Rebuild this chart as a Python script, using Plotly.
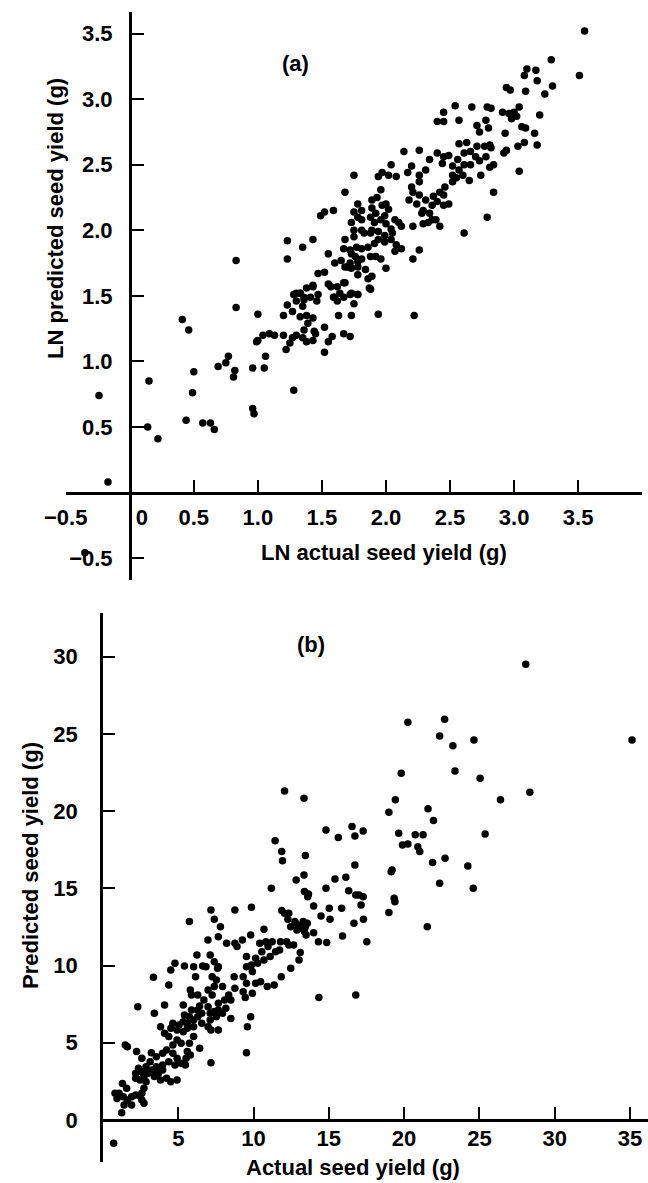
import plotly.graph_objects as go

# ---------------- Panel (a): LN values ----------------
a_actual = [3.55,3.29,3.10,3.17,3.08,3.18,3.30,3.51,2.94,2.97,3.09,3.24,2.79,2.82,3.04,2.91,2.96,3.00,3.02,2.98,
            3.20,2.45,2.54,2.67,2.40,2.45,2.57,2.71,2.78,2.73,2.80,2.93,3.06,3.09,3.16,2.57,2.63,2.71,2.77,2.81,
            2.82,2.92,2.94,3.03,3.08,3.18,2.66,2.61,2.78,2.70,2.26,2.14,2.40,2.45,2.49,2.44,2.56,2.52,2.57,2.61,
            2.66,2.73,2.81,2.84,2.65,2.60,2.55,2.52,2.74,3.04,2.34,2.31,2.26,2.20,2.17,2.04,2.02,1.97,1.94,2.08,
            1.75,2.52,2.46,2.42,2.37,2.45,2.36,2.31,2.26,2.21,2.18,2.24,2.29,2.34,2.39,2.42,2.33,2.28,2.84,2.49,
            2.45,2.40,2.26,2.20,1.96,1.93,1.89,1.68,1.78,1.81,1.89,1.92,1.97,2.00,2.02,1.75,1.78,1.81,1.88,1.91,
            1.96,1.99,2.07,2.10,2.00,2.04,2.05,2.12,2.21,2.29,2.36,2.79,2.61,1.49,1.52,1.59,1.73,1.75,1.81,1.88,
            1.94,1.99,2.04,2.08,2.12,2.07,1.99,1.94,1.89,1.83,1.75,1.68,1.67,1.72,1.77,1.81,1.86,1.91,1.96,2.21,
            2.26,1.23,1.35,1.43,1.73,1.76,1.81,1.88,1.92,1.78,1.72,1.68,1.65,1.73,1.78,1.84,2.00,1.55,1.60,1.23,
            0.83,1.89,1.86,1.78,1.70,1.52,1.47,1.55,1.62,1.67,1.73,1.78,1.88,1.43,1.38,1.33,1.30,1.36,1.60,1.67,
            0.83,0.41,0.46,1.00,1.23,1.28,1.30,1.33,1.35,1.36,1.41,1.43,1.47,1.46,1.57,1.59,1.62,1.64,1.68,1.72,
            1.78,1.75,1.87,1.63,1.73,1.94,2.22,1.52,1.43,1.39,1.44,1.36,1.30,1.25,1.22,1.27,1.35,1.38,1.43,1.45,
            1.20,1.13,1.09,1.04,1.00,0.99,1.20,1.27,1.33,1.38,1.58,1.67,1.72,1.55,1.52,1.06,0.77,0.75,0.69,0.82,
            0.81,0.96,1.05,0.50,0.49,0.15,-0.24,1.28,0.96,0.97,0.44,0.57,0.63,0.66,0.14,0.22,-0.17,-0.35]
a_pred = [3.52,3.30,3.23,3.22,3.18,3.14,3.10,3.18,3.09,3.07,3.06,3.04,2.94,2.93,2.94,2.90,2.89,2.90,2.87,2.85,
          2.88,2.90,2.95,2.94,2.83,2.83,2.84,2.80,2.84,2.75,2.78,2.74,2.79,2.78,2.74,2.66,2.67,2.64,2.64,2.65,
          2.63,2.59,2.61,2.64,2.67,2.65,2.60,2.59,2.56,2.56,2.61,2.60,2.59,2.56,2.57,2.51,2.54,2.49,2.46,2.50,
          2.50,2.53,2.48,2.50,2.38,2.42,2.40,2.42,2.42,2.45,2.54,2.46,2.42,2.49,2.44,2.50,2.42,2.44,2.41,2.41,
          2.42,2.37,2.33,2.29,2.26,2.27,2.19,2.23,2.27,2.29,2.23,2.20,2.15,2.13,2.08,2.03,2.06,2.13,2.29,2.20,
          2.19,2.22,2.37,2.33,2.31,2.25,2.23,2.29,2.20,2.15,2.17,2.13,2.19,2.20,2.16,2.14,2.10,2.08,2.10,2.06,
          2.08,2.11,2.08,2.06,2.05,2.01,1.98,2.03,2.03,2.05,2.08,2.10,1.98,2.11,2.14,2.15,2.06,2.00,2.00,1.98,
          1.99,1.96,1.93,1.89,1.86,1.84,1.91,1.93,2.00,1.98,1.95,1.93,1.86,1.85,1.87,1.86,1.87,1.90,1.78,1.78,
          1.85,1.92,1.87,1.93,1.82,1.80,1.78,1.80,1.80,1.76,1.75,1.72,1.77,1.71,1.72,1.70,1.71,1.82,1.75,1.78,
          1.77,1.65,1.63,1.66,1.72,1.68,1.67,1.59,1.57,1.60,1.52,1.51,1.55,1.58,1.56,1.52,1.52,1.49,1.49,1.49,
          1.41,1.32,1.24,1.36,1.43,1.51,1.46,1.52,1.42,1.47,1.49,1.57,1.51,1.46,1.57,1.49,1.46,1.52,1.60,1.51,
          1.51,1.44,1.56,1.35,1.35,1.36,1.35,1.26,1.33,1.29,1.23,1.24,1.20,1.14,1.09,1.18,1.18,1.15,1.16,1.21,
          1.20,1.20,1.21,1.20,1.16,1.15,1.35,1.38,1.34,1.35,1.19,1.21,1.19,1.15,1.07,1.04,1.04,0.99,0.96,0.93,
          0.88,0.95,0.95,0.92,0.76,0.85,0.74,0.78,0.64,0.60,0.55,0.53,0.53,0.48,0.50,0.41,0.08,-0.46]

# ---------------- Panel (b): raw values ----------------
b_actual = [28.08,35.14,20.25,22.69,22.36,23.24,24.64,19.81,23.38,25.05,28.35,26.40,12.06,13.35,19.42,18.99,21.59,21.95,11.43,11.87,
            11.92,13.44,14.81,15.63,16.54,16.73,17.28,19.64,20.74,21.26,25.38,19.89,20.25,20.91,21.04,22.72,21.89,24.23,16.73,19.20,
            19.14,13.35,12.83,15.41,16.13,22.36,24.59,11.18,13.38,13.65,14.81,16.32,16.79,17.28,19.34,13.60,17.00,17.14,16.67,17.30,
            17.52,15.85,15.91,15.03,15.08,14.48,13.99,13.99,14.31,14.86,14.34,16.79,18.99,19.39,21.54,11.87,12.06,12.34,12.28,12.47,
            12.75,12.94,13.16,13.38,13.49,13.30,13.57,12.88,13.44,10.69,8.76,9.86,7.17,5.74,7.39,7.80,6.97,7.66,8.21,8.76,
            8.90,9.26,9.81,10.41,10.82,11.24,11.79,12.20,12.34,10.96,10.55,10.14,10.27,10.69,11.10,11.46,11.73,9.53,9.53,9.86,
            9.92,9.31,9.53,10.14,10.47,10.91,11.37,11.84,12.47,13.02,13.10,12.66,9.31,9.45,9.92,8.71,8.76,8.35,8.49,8.16,
            8.49,7.94,7.66,7.39,6.98,7.12,7.53,8.08,7.66,7.25,6.98,7.39,7.94,7.53,7.25,7.61,7.39,7.12,7.66,6.70,
            6.42,6.56,6.29,6.29,6.02,5.74,5.60,5.33,5.05,4.64,4.51,4.92,5.33,5.60,6.02,6.56,7.12,7.17,6.98,7.66,
            9.59,9.81,6.42,6.02,5.74,5.60,5.52,5.47,5.80,5.19,4.92,4.64,4.37,4.09,3.82,3.41,4.09,4.37,3.35,4.50,
            4.78,5.41,6.15,6.02,6.24,6.62,6.84,2.31,5.33,5.41,5.88,6.29,5.80,5.88,1.48,1.62,2.23,2.58,3.21,3.54,
            3.96,4.23,4.64,4.92,5.19,4.78,4.37,3.96,3.54,3.13,2.86,2.58,2.36,2.17,2.17,2.45,2.72,2.99,3.27,3.68,
            3.96,4.23,4.50,4.92,3.82,3.41,2.86,2.72,2.58,2.17,1.90,1.62,1.90,1.35,1.07,0.80,0.93,1.29,1.57,1.24,
            0.71,1.40,2.45,2.58,2.72,9.53,7.17]
b_pred = [29.51,24.61,25.76,25.95,24.87,24.24,24.61,22.45,22.60,22.13,21.22,20.73,21.31,20.83,20.73,19.93,20.16,19.39,18.09,17.38,
          16.78,17.12,18.78,18.29,19.00,18.39,18.72,18.57,18.47,18.47,18.52,17.81,17.88,17.70,17.38,16.95,16.67,16.45,16.52,16.19,
          16.08,15.87,15.54,15.61,15.72,15.33,15.00,15.00,14.79,14.64,15.00,14.85,14.57,14.46,14.36,14.46,14.57,13.92,12.74,13.00,
          11.55,13.71,11.92,13.71,13.00,13.21,13.86,12.13,11.55,11.49,7.94,8.10,13.43,14.14,12.52,13.56,13.39,13.39,13.00,12.52,
          12.85,12.63,12.41,12.20,11.98,12.85,12.74,12.31,12.52,12.35,13.60,13.77,13.60,12.85,13.00,12.52,11.66,11.87,11.44,11.44,
          11.23,11.66,11.98,11.44,11.55,11.55,11.55,11.55,11.33,11.23,10.90,10.47,10.15,10.36,10.58,10.90,11.01,10.58,9.93,10.04,
          9.61,9.28,8.85,8.85,8.96,8.64,8.74,9.28,9.82,10.36,10.84,11.33,8.31,7.94,8.20,9.28,8.53,8.10,7.77,7.23,
          6.58,6.91,7.12,7.02,7.34,6.91,6.69,7.77,7.56,8.10,8.42,8.64,8.64,9.07,9.28,9.82,10.25,10.69,9.93,7.77,
          7.38,6.91,7.12,6.69,6.48,6.69,6.26,6.37,6.15,6.26,5.94,5.83,5.72,5.94,6.04,6.26,6.48,5.83,6.04,5.83,
          6.04,6.69,4.64,5.40,4.97,4.43,4.00,3.56,4.21,4.97,5.18,4.86,5.40,5.61,6.04,6.91,7.45,8.74,9.24,9.72,
          10.15,9.97,9.28,9.93,10.69,9.97,9.93,7.34,7.45,6.80,7.12,8.10,8.42,8.10,4.86,4.75,4.43,4.00,4.36,4.10,
          4.32,4.53,4.32,4.00,3.67,3.56,3.78,3.56,3.45,3.78,3.45,3.13,3.35,3.02,2.70,2.59,2.81,3.02,3.24,3.02,
          3.24,2.70,2.48,2.59,2.59,2.81,2.48,2.05,1.73,1.62,1.51,1.30,0.97,1.51,1.73,1.73,1.40,2.37,2.05,0.47,
          -1.51,0.97,1.55,1.30,1.08,4.36,3.71]

# ---------------- Ticks ----------------
a_xtick_vals = [-0.5, 0, 0.5, 1.0, 1.5, 2.0, 2.5, 3.0, 3.5]
a_xtick_text = ["\u22120.5", "\u00a0\u00a0\u00a0\u00a00", "0.5", "1.0", "1.5", "2.0", "2.5", "3.0", "3.5"]
a_ytick_vals = [-0.5, 0.5, 1.0, 1.5, 2.0, 2.5, 3.0, 3.5]
a_ytick_text = ["\u22120.5", "0.5", "1.0", "1.5", "2.0", "2.5", "3.0", "3.5"]
b_xtick_vals = [5, 10, 15, 20, 25, 30, 35]
b_xtick_text = ["5", "10", "15", "20", "25", "30", "35"]
b_ytick_vals = [0, 5, 10, 15, 20, 25, 30]
b_ytick_text = ["0", "5", "10", "15", "20", "25", "30"]

FONT = "Liberation Sans, Arial, sans-serif"
tfont = dict(family=FONT, size=22, color="black", weight="bold")

fig = go.Figure()
mk = dict(color="black", size=7.5, line=dict(width=0))
fig.add_trace(go.Scatter(x=a_actual, y=a_pred, mode="markers", marker=mk, xaxis="x", yaxis="y",
                         showlegend=False, hoverinfo="skip"))
fig.add_trace(go.Scatter(x=b_actual, y=b_pred, mode="markers", marker=mk, xaxis="x2", yaxis="y2",
                         showlegend=False, hoverinfo="skip"))

W, H = 648, 1183
# panel a geometry (pixels)
a_left, a_right, a_top, a_bot = 65.7, 642.2, 12.0, 580.3
a_x0_px, a_y0_px = 129.75, 492.5
# panel b geometry
b_left, b_right, b_top, b_bot = 103.0, 648.0, 612.7, 1161.7
b_y0_px = 1120.0

axcommon = dict(showgrid=False, zeroline=False, showline=True, linecolor="black", linewidth=2.5,
                ticks="inside", tickcolor="black", tickwidth=2, ticklen=12, tickfont=tfont,
                tickmode="array", fixedrange=True, automargin=False)

fig.update_layout(
    width=W, height=H, margin=dict(l=0, r=0, t=0, b=0, pad=0, autoexpand=False),
    paper_bgcolor="white", plot_bgcolor="white",
    xaxis=dict(axcommon, domain=[a_left / W, a_right / W], range=[-0.5, 4.0],
               anchor="free", position=(H - a_y0_px) / H,
               tickvals=a_xtick_vals, ticktext=a_xtick_text, ticklabelstandoff=4),
    yaxis=dict(axcommon, domain=[(H - a_bot) / H, (H - a_top) / H], range=[-0.67, 3.665],
               anchor="free", position=a_x0_px / W,
               tickvals=a_ytick_vals, ticktext=a_ytick_text, ticklabelstandoff=12),
    xaxis2=dict(axcommon, domain=[b_left / W, b_right / W], range=[0, 36.2],
                anchor="free", position=(H - b_y0_px) / H,
                tickvals=b_xtick_vals, ticktext=b_xtick_text, ticklabelstandoff=-2),
    yaxis2=dict(axcommon, domain=[(H - b_bot) / H, (H - b_top) / H], range=[-2.7, 32.85],
                anchor="x2", tickvals=b_ytick_vals, ticktext=b_ytick_text, ticklabelstandoff=18),
)

ann = dict(showarrow=False, font=tfont, xanchor="center", yanchor="middle")
fig.add_annotation(ann, text="(a)", x=1.29, y=3.27, xref="x", yref="y")
fig.add_annotation(ann, text="(b)", x=13.8, y=30.8, xref="x2", yref="y2")
fig.add_annotation(ann, text="LN actual seed yield (g)", x=384 / W, y=(H - 552) / H, xref="paper", yref="paper")
fig.add_annotation(ann, text="LN predicted seed yield (g)", x=55 / W, y=(H - 219) / H, xref="paper", yref="paper",
                   textangle=-90)
fig.add_annotation(ann, text="Actual seed yield (g)", x=353 / W, y=(H - 1167) / H, xref="paper", yref="paper")
fig.add_annotation(ann, text="Predicted seed yield (g)", x=30 / W, y=(H - 866) / H, xref="paper", yref="paper",
                   textangle=-90)

fig.write_html("out.html")
